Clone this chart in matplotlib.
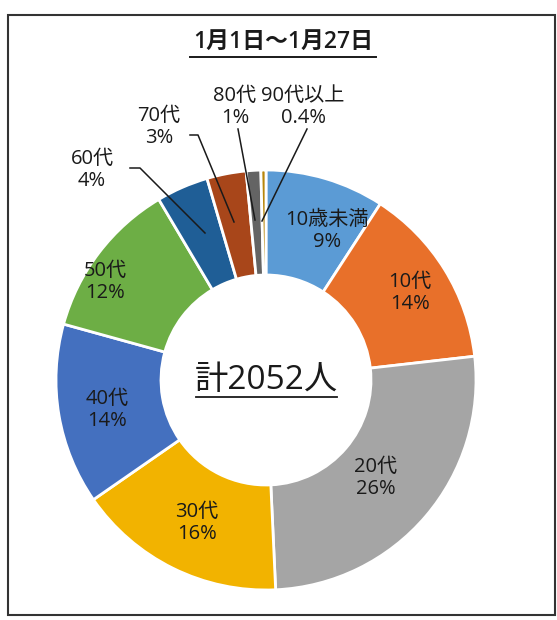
import matplotlib.pyplot as plt
from matplotlib.patches import Rectangle

plt.rcParams['font.family'] = ['Open Sans', 'Noto Sans CJK JP', 'DejaVu Sans']

# age groups and counts (total 2052)
ages = ["10歳未満", "10代", "20代", "30代", "40代", "50代", "60代", "70代", "80代", "90代以上"]
counts = [188, 288, 535, 330, 286, 250, 82, 62, 23, 8]
colors = ["#5B9BD5", "#E8702A", "#A5A5A5", "#F2B300", "#4470BF",
          "#6DAE45", "#1F5E96", "#A8461A", "#646464", "#B8860B"]
title = "1月1日～1月27日"

total = sum(counts)


def pct_text(c):
    p = c / total * 100
    if p < 1:
        return f"{p:.1f}%"
    return f"{p:.0f}%"


W, H = 557, 620
fig = plt.figure(figsize=(W / 100, H / 100), dpi=100)
ax = fig.add_axes([0, 0, 1, 1])
ax.set_aspect('equal')
ax.axis('off')

cx, cy, R = 266, 380, 210
wedges, _ = ax.pie(counts, colors=colors, startangle=90, counterclock=False,
                   center=(cx, -cy), radius=R,
                   wedgeprops=dict(width=R * 0.5, edgecolor='white', linewidth=2))
# axis is inverted (pixel coords), so mirror the wedge angles
for w in wedges:
    w.set_center((cx, cy))
    t1, t2 = w.theta1, w.theta2
    w.set_theta1(-t2)
    w.set_theta2(-t1)
ax.set_xlim(0, W)
ax.set_ylim(H, 0)

# labels: (x, y) centre of the two-line text, leader line points if any
label_pos = {
    "10歳未満": (327, 231, None),
    "10代": (410, 293, None),
    "20代": (376, 478, None),
    "30代": (197, 523, None),
    "40代": (107, 410, None),
    "50代": (105, 282, None),
    "60代": (92, 170, [(130, 168), (140, 168), (205, 233)]),
    "70代": (159, 127, [(190, 135), (198, 135), (234, 222)]),
    "80代": (235, 107, [(238, 129), (255, 220)]),
    "90代以上": (303, 107, [(307, 129), (262, 221)]),
}
for a, c in zip(ages, counts):
    x, y, pts = label_pos[a]
    ax.text(x, y, f"{a}\n{pct_text(c)}", ha='center', va='center',
            fontsize=14.5, color='#1a1a1a', linespacing=1.15)
    if pts:
        ax.plot([p[0] for p in pts], [p[1] for p in pts], color='#1a1a1a', lw=1.1)

# title with underline
ax.text(283, 42, title, ha='center', va='center', fontsize=16.5,
        fontweight='semibold', color='#1a1a1a')
ax.plot([190, 376], [57, 57], color='#1a1a1a', lw=1.4)

# centre total with underline
ax.text(266, 380, f"計{total}人", ha='center', va='center', fontsize=24,
        color='#1a1a1a')
ax.plot([196, 337], [397, 397], color='#1a1a1a', lw=1.3)

ax.add_patch(Rectangle((8, 15), 547, 600, fill=False, edgecolor='#333333', lw=1.5))

fig.savefig("out.png", dpi=100)
